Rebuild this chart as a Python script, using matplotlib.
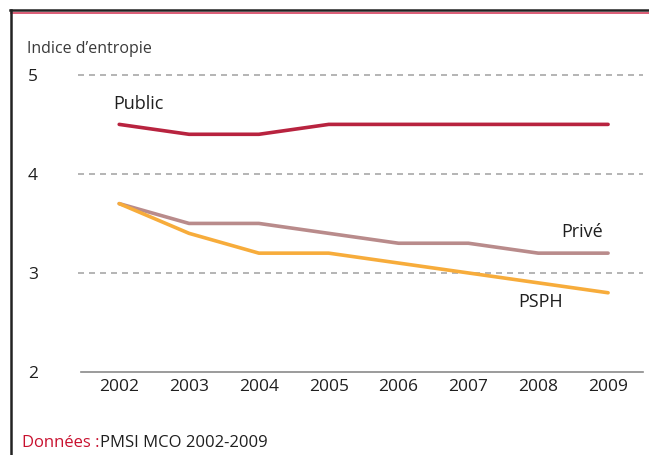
import matplotlib
matplotlib.use("Agg")
import matplotlib.pyplot as plt
from matplotlib.lines import Line2D

plt.rcParams["font.family"] = ["Open Sans", "DejaVu Sans"]

years = [2002, 2003, 2004, 2005, 2006, 2007, 2008, 2009]
public = [4.5, 4.4, 4.4, 4.5, 4.5, 4.5, 4.5, 4.5]
prive = [3.7, 3.5, 3.5, 3.4, 3.3, 3.3, 3.2, 3.2]
psph = [3.7, 3.4, 3.2, 3.2, 3.1, 3.0, 2.9, 2.8]
yticks = [2, 3, 4, 5]

C_PUBLIC = "#b8233f"
C_PRIVE = "#b98b8b"
C_PSPH = "#f7ac3b"
TXT = "#1f1f1f"

fig = plt.figure(figsize=(6.49, 4.55), dpi=100)
ax = fig.add_axes([78 / 649, 1 - 372 / 455, (643 - 78) / 649, (372 - 61) / 455])

ax.set_xlim(2001.41, 2009.50)
ax.set_ylim(2, 5.14)

for y in yticks[1:]:
    ax.axhline(y, color="#a8a8a8", lw=1.2, ls=(0, (3.6, 3)), zorder=1)
ax.plot([2001.45, 2009.50], [2, 2], color="#8a8a8a", lw=1.2, clip_on=False, zorder=1)

ax.plot(years, public, color=C_PUBLIC, lw=2.6, solid_capstyle="round", zorder=3)
ax.plot(years, prive, color=C_PRIVE, lw=2.6, solid_capstyle="round", zorder=3)
ax.plot(years, psph, color=C_PSPH, lw=2.6, solid_capstyle="round", zorder=4)

ax.text(2001.91, 4.71, "Public", fontsize=13, color=TXT, ha="left", va="center")
ax.text(2008.63, 3.41, "Privé", fontsize=13, color=TXT, ha="center", va="center")
ax.text(2008.03, 2.71, "PSPH", fontsize=13, color=TXT, ha="center", va="center")

for s in ax.spines.values():
    s.set_visible(False)
ax.set_xticks(years)
ax.set_xticklabels([str(y) for y in years], fontsize=12.5, color=TXT)
ax.set_yticks(yticks)
ax.set_yticklabels([str(y) for y in yticks], fontsize=12.5, color=TXT, ha="left")
ax.tick_params(axis="x", length=0, pad=5)
ax.tick_params(axis="y", length=0, pad=36)

fig.text(27 / 649, 1 - 49 / 455, "Indice d\u2019entropie", fontsize=11.5, color="#3a3a3a",
         ha="left", va="center")

fig.text(22 / 649, 1 - 443 / 455, "Données :", fontsize=12, color="#c8102e",
         ha="left", va="center")
fig.text(100 / 649, 1 - 443 / 455, "PMSI MCO 2002-2009", fontsize=12, color=TXT,
         ha="left", va="center")

# frame: top rule and left edge
fig.add_artist(Line2D([10 / 649, 1], [1 - 10 / 455, 1 - 10 / 455], color="#222222", lw=1.8))
fig.add_artist(Line2D([11 / 649, 1], [1 - 12.5 / 455, 1 - 12.5 / 455], color="#d4415e", lw=1.2))
fig.add_artist(Line2D([11 / 649, 11 / 649], [1 - 10 / 455, 0], color="#222222", lw=1.8))

fig.savefig("out.png", dpi=100)
